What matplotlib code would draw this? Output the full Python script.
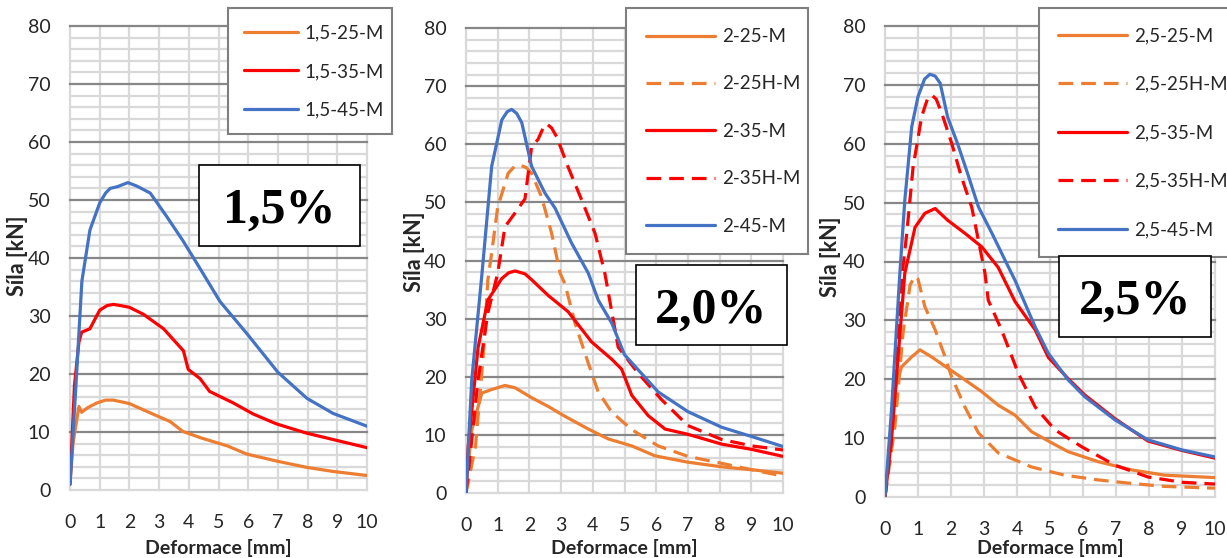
import matplotlib
matplotlib.use("Agg")
import matplotlib.pyplot as plt
from matplotlib.patches import Rectangle

# ---------------- data ----------------
# Panel 1 (1,5 %)
p1_25_x = [0, 0.1, 0.3, 0.39, 0.6, 0.9, 1.2, 1.46, 2.0, 2.7, 3.37, 3.8, 4.4, 5.3, 5.95, 6.95, 7.97, 8.86, 10]
p1_25_y = [1, 8, 14.4, 13.4, 14.2, 15.0, 15.5, 15.5, 14.9, 13.3, 11.8, 10.1, 9.0, 7.6, 6.2, 5.0, 3.9, 3.2, 2.5]
p1_35_x = [0, 0.15, 0.3, 0.39, 0.67, 1.0, 1.25, 1.46, 1.7, 2.0, 2.47, 3.15, 3.82, 3.98, 4.38, 4.7, 5.5, 6.17, 6.95, 7.97, 8.86, 10]
p1_35_y = [1, 18, 25.5, 27.2, 27.8, 31, 31.8, 32.0, 31.8, 31.5, 30.3, 27.8, 24.0, 20.8, 19.2, 17.0, 15.0, 13.1, 11.4, 9.8, 8.7, 7.3]
p1_45_x = [0, 0.2, 0.4, 0.67, 1.0, 1.2, 1.35, 1.6, 1.95, 2.25, 2.7, 3.25, 3.8, 4.4, 5.05, 5.95, 7.0, 7.98, 8.86, 10]
p1_45_y = [1, 18, 36, 44.8, 49.5, 51.2, 52, 52.3, 53, 52.4, 51.2, 47.2, 43, 38, 32.5, 27, 20.3, 15.8, 13.2, 11.0]

# Panel 2 (2,0 %)
p2_25_x = [0, 0.18, 0.5, 0.81, 1.23, 1.55, 2.07, 2.59, 3.12, 3.86, 4.49, 5.23, 5.96, 7.0, 8.07, 9.02, 10]
p2_25_y = [1, 10.8, 17.2, 17.8, 18.5, 18.1, 16.4, 14.9, 13.2, 11.0, 9.3, 8.1, 6.4, 5.3, 4.5, 4.0, 3.4]
p2_25h_x = [0, 0.3, 0.55, 0.69, 0.81, 1.0, 1.33, 1.55, 1.7, 1.9, 2.07, 2.38, 2.7, 2.97, 3.12, 3.44, 3.86, 4.17, 4.6, 5.23, 6.06, 7.0, 8.07, 9.02, 10]
p2_25h_y = [0, 8, 24, 36.7, 41.3, 49.2, 55, 56.3, 56.4, 56.0, 55, 51, 44.7, 37.8, 36.0, 29.2, 22.3, 17.4, 13.9, 10.9, 8.1, 6.3, 5.1, 4.0, 2.9]
p2_35_x = [0, 0.07, 0.38, 0.69, 1.13, 1.35, 1.55, 1.86, 2.07, 2.59, 3.22, 3.96, 4.6, 4.91, 5.23, 5.75, 6.28, 7.0, 8.07, 9.02, 10]
p2_35_y = [0, 8, 25, 33.2, 36.9, 37.9, 38.2, 37.7, 36.7, 34.0, 31.2, 26.0, 23.0, 21.3, 16.8, 13.3, 11.0, 10.1, 8.4, 7.5, 6.3]
p2_35h_x = [0, 0.07, 0.38, 0.69, 1.0, 1.23, 1.55, 1.86, 2.07, 2.27, 2.45, 2.55, 2.7, 2.86, 3.22, 3.65, 4.07, 4.38, 4.8, 5.43, 6.18, 7.0, 8.07, 9.02, 10]
p2_35h_y = [0, 3.4, 19.4, 31, 37.8, 45.8, 48.2, 50.6, 59.6, 60.8, 63.0, 63.5, 62.8, 61.3, 56.1, 50.4, 44.7, 37.8, 25.1, 20.6, 16.0, 11.6, 9.2, 8.1, 7.4]
p2_45_x = [0, 0.18, 0.5, 0.81, 1.13, 1.3, 1.44, 1.6, 1.76, 2.07, 2.49, 2.81, 3.33, 3.86, 4.17, 4.6, 5.0, 5.43, 6.06, 7.0, 8.07, 9.02, 10]
p2_45_y = [0, 19.4, 37.5, 56.2, 64.2, 65.6, 66, 65.3, 63.7, 56.2, 51.6, 49, 43, 37.8, 33.2, 29.2, 23.8, 21.2, 17.4, 14.0, 11.3, 9.7, 8.0]

# Panel 3 (2,5 %)
p3_25_x = [0, 0.3, 0.5, 0.81, 1.06, 1.41, 1.9, 2.42, 2.93, 3.43, 3.94, 4.44, 5.05, 5.55, 6.46, 7.48, 8.48, 10]
p3_25_y = [0, 18.2, 22.1, 23.8, 25, 23.8, 21.9, 19.9, 17.9, 15.6, 13.9, 11.1, 9.2, 7.7, 6.0, 4.6, 3.7, 3.3]
p3_25h_x = [0, 0.3, 0.55, 0.76, 0.9, 1.0, 1.21, 1.52, 1.82, 2.02, 2.42, 2.83, 3.43, 4.44, 5.45, 6.46, 7.48, 8.48, 10]
p3_25h_y = [0, 12, 28, 36.0, 37.5, 37.0, 32.3, 28.4, 23.8, 20.4, 15.3, 10.9, 7.5, 5.1, 3.7, 2.9, 2.3, 1.8, 1.5]
p3_35_x = [0, 0.2, 0.6, 0.91, 1.21, 1.52, 1.9, 2.42, 2.93, 3.43, 3.94, 4.55, 4.95, 5.55, 6.06, 6.97, 7.97, 9.0, 10]
p3_35_y = [0, 10, 38, 45.8, 48.2, 49, 47, 44.8, 42.5, 39, 33.2, 28.4, 23.7, 20.1, 17.3, 13.3, 9.5, 7.9, 6.6]
p3_35h_x = [0, 0.2, 0.5, 0.66, 0.85, 1.11, 1.28, 1.41, 1.55, 1.72, 2.02, 2.32, 2.63, 2.83, 3.03, 3.13, 3.53, 4.04, 4.55, 5.15, 5.97, 6.97, 7.97, 9.0, 10]
p3_35h_y = [0, 10, 36.8, 44.8, 56, 64.6, 67.5, 68.3, 67.6, 65.2, 60.1, 54.3, 49.2, 43.6, 38, 33.4, 28.4, 21, 15.3, 11.4, 8.5, 5.4, 3.4, 2.5, 2.2]
p3_45_x = [0, 0.2, 0.45, 0.6, 0.81, 1.0, 1.2, 1.36, 1.52, 1.67, 1.9, 2.2, 2.5, 2.83, 3.24, 3.64, 3.94, 4.55, 4.95, 5.55, 6.06, 6.97, 7.97, 9.0, 10]
p3_45_y = [0, 15, 38, 50.4, 62.9, 68, 71.0, 71.8, 71.5, 70.3, 64.5, 60, 55, 49.3, 44.8, 40.2, 36.8, 28.9, 24.4, 19.9, 17, 13.1, 9.7, 8.0, 6.8]

panel_labels = ["1,5%", "2,0%", "2,5%"]
x_label = "Deformace [mm]"
y_label = "Síla [kN]"
x_ticks = list(range(0, 11))
y_ticks = list(range(0, 81, 10))

ORANGE = "#ED7D31"
RED = "#FF0000"
BLUE = "#4472C4"

plt.rcParams['font.family'] = ['Lato', 'DejaVu Sans']

W, H = 1227, 558
fig = plt.figure(figsize=(W / 100, H / 100), dpi=100)


def fbox(l, t, r, b):
    return [l / W, 1 - b / H, (r - l) / W, (b - t) / H]


axes_px = [(70, 26, 367, 490), (466, 28, 783, 493), (885, 26, 1215, 497)]

series = [
    [(p1_25_x, p1_25_y, "1,5-25-M", ORANGE, "-"),
     (p1_35_x, p1_35_y, "1,5-35-M", RED, "-"),
     (p1_45_x, p1_45_y, "1,5-45-M", BLUE, "-")],
    [(p2_25_x, p2_25_y, "2-25-M", ORANGE, "-"),
     (p2_25h_x, p2_25h_y, "2-25H-M", ORANGE, "--"),
     (p2_35_x, p2_35_y, "2-35-M", RED, "-"),
     (p2_35h_x, p2_35h_y, "2-35H-M", RED, "--"),
     (p2_45_x, p2_45_y, "2-45-M", BLUE, "-")],
    [(p3_25_x, p3_25_y, "2,5-25-M", ORANGE, "-"),
     (p3_25h_x, p3_25h_y, "2,5-25H-M", ORANGE, "--"),
     (p3_35_x, p3_35_y, "2,5-35-M", RED, "-"),
     (p3_35h_x, p3_35h_y, "2,5-35H-M", RED, "--"),
     (p3_45_x, p3_45_y, "2,5-45-M", BLUE, "-")],
]

# (left, top, width, labelspacing, handlelength, borderpad)
legend_px = [(228, 14, 164, 1.15, 2.9, 0.85), (626, 14, 182, 1.62, 3.7, 1.05), (1039, 14, 200, 1.68, 3.7, 1.0)]
box_px = [(199, 165, 360, 246), (636, 265, 787, 345), (1059, 256, 1211, 337)]
ylab_px = [(28, 256), (425, 252), (841, 257)]

for i in range(3):
    l, t, r, b = axes_px[i]
    ax = fig.add_axes(fbox(l, t, r, b))
    ax.set_xlim(0, 10)
    ax.set_ylim(0, 80)
    for s in ax.spines.values():
        s.set_visible(False)
    # grid
    for xv in range(0, 11):
        ax.axvline(xv, color="#D9D9D9", lw=1.6, zorder=0, clip_on=False)
    for yv in range(2, 80, 2):
        if yv % 10:
            ax.axhline(yv, color="#D9D9D9", lw=1.6, zorder=0)
    for yv in range(10, 81, 10):
        ax.axhline(yv, color="#878787", lw=1.6, zorder=0.5, clip_on=False)
    ax.axhline(0, color="#D9D9D9", lw=1.6, zorder=0.5, clip_on=False)

    handles = []
    for xs, ys, lab, col, ls in series[i]:
        if ls == "--":
            h, = ax.plot(xs, ys, color=col, lw=2.3, linestyle=(0, (4.6, 2.5)), label=lab,
                         solid_joinstyle="round", zorder=3)
        else:
            h, = ax.plot(xs, ys, color=col, lw=2.3, label=lab, solid_joinstyle="round",
                         solid_capstyle="round", zorder=3)
        handles.append(h)

    ax.set_xticks(x_ticks)
    ax.set_yticks(y_ticks)
    ax.tick_params(axis="both", length=0, labelsize=14, colors="#262626")
    ax.tick_params(axis="x", pad=17)
    ax.tick_params(axis="y", pad=14)
    ax.set_xlabel(x_label, fontsize=14, fontweight="bold", color="#262626")
    ax.xaxis.set_label_coords(0.5, (b - 539) / (b - t))
    ax.set_ylabel(y_label, fontsize=15.5, fontweight="bold", color="#262626")
    yx, yy = ylab_px[i]
    ax.yaxis.set_label_coords((yx - l) / (r - l), (b - yy) / (b - t))

    lx, ly, lw_, lsp, hl, bp = legend_px[i]
    leg = ax.legend(handles=handles, loc="upper left",
                    bbox_to_anchor=(lx / W, 1 - ly / H, lw_ / W, 0.01),
                    bbox_transform=fig.transFigure, mode="expand",
                    borderaxespad=0, fontsize=13.5, frameon=True, fancybox=False,
                    edgecolor="#7F7F7F", framealpha=1, handlelength=hl,
                    handletextpad=0.35, labelspacing=lsp, borderpad=bp)
    leg.get_frame().set_linewidth(1.5)
    for txt in leg.get_texts():
        txt.set_color("#262626")

    bl, bt, br, bb = box_px[i]
    fig.patches.append(Rectangle((bl / W, 1 - bb / H), (br - bl) / W, (bb - bt) / H,
                                 transform=fig.transFigure, facecolor="white",
                                 edgecolor="black", lw=1.2, zorder=5))
    fig.text((bl + br) / 2 / W, 1 - (bt + bb) / 2 / H, panel_labels[i],
             family="Liberation Serif", fontweight="bold", fontsize=36,
             ha="center", va="center_baseline", zorder=6)

fig.savefig("out.png", dpi=100)
